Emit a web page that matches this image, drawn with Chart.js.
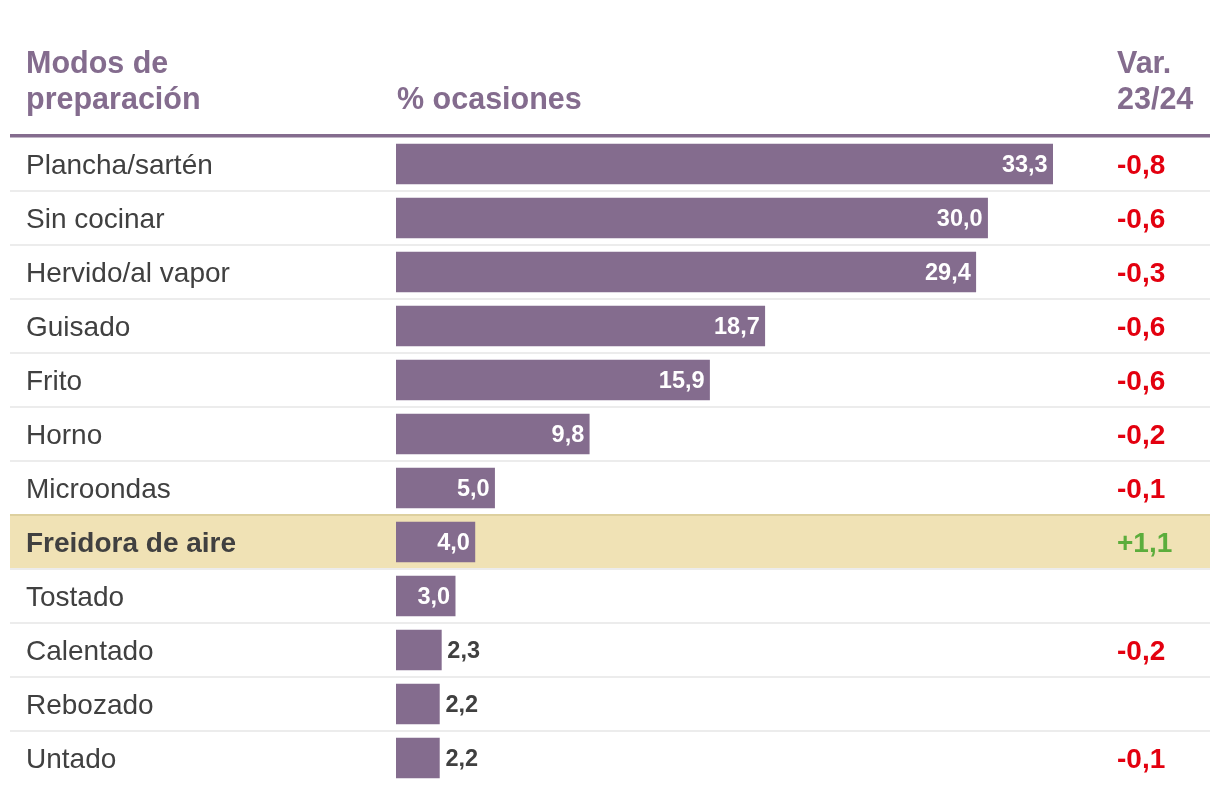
<!DOCTYPE html>
<html>
<head>
<meta charset="utf-8">
<script src="https://cdn.jsdelivr.net/npm/chart.js@4"></script>
<style>
  html, body { margin: 0; padding: 0; background: #fff; }
  #wrap { width: 1220px; height: 794px; position: relative; }
</style>
</head>
<body>
<div id="wrap"><canvas id="modosChart"></canvas></div>
<script>
const modos = ['Plancha/sartén', 'Sin cocinar', 'Hervido/al vapor', 'Guisado', 'Frito', 'Horno',
    'Microondas', 'Freidora de aire', 'Tostado', 'Calentado', 'Rebozado', 'Untado'];
const ocasiones = [33.3, 30.0, 29.4, 18.7, 15.9, 9.8, 5.0, 4.0, 3.0, 2.3, 2.2, 2.2];
const variacion = [-0.8, -0.6, -0.3, -0.6, -0.6, -0.2, -0.1, 1.1, null, -0.2, null, -0.1];
const destacado = 7; // Freidora de aire

const purple = '#846c8e';
const textGrey = '#404040';
const fmt = v => v.toFixed(1).replace('.', ',');

Chart.defaults.font.family = "'Liberation Sans', Arial, sans-serif";

const tablePlugin = {
    id: 'tablePlugin',
    beforeDraw(chart) {
        const c = chart.ctx;
        const y = chart.scales.y;
        const half = y.getPixelForValue(1) - y.getPixelForValue(0);
        c.save();
        // highlighted row
        const hTop = y.getPixelForValue(destacado) - half / 2;
        c.fillStyle = '#f0e2b5';
        c.fillRect(10, hTop, 1200, half);
        c.fillStyle = '#ddd09f';
        c.fillRect(10, hTop - 1, 1200, 2);
        // row separators
        c.fillStyle = '#ececec';
        for (let i = 0; i < modos.length - 1; i++) {
            if (i === destacado - 1) continue;
            const sy = y.getPixelForValue(i) + half / 2;
            c.fillRect(10, sy - 1, 1200, 2);
        }
        // header rule
        c.fillStyle = purple;
        c.fillRect(10, 134, 1200, 3.5);
        // headers
        c.font = "bold 30.5px 'Liberation Sans', Arial, sans-serif";
        c.fillStyle = purple;
        c.textBaseline = 'middle';
        c.textAlign = 'left';
        c.fillText('Modos de', 26, 65);
        c.fillText('preparación', 26, 101);
        c.fillText('% ocasiones', 397, 101);
        c.fillText('Var.', 1117, 65);
        c.fillText('23/24', 1117, 101);
        c.restore();
    },
    afterDraw(chart) {
        const c = chart.ctx;
        const y = chart.scales.y;
        const meta = chart.getDatasetMeta(0);
        c.save();
        c.textBaseline = 'middle';
        // value labels
        c.font = "bold 23.5px 'Liberation Sans', Arial, sans-serif";
        meta.data.forEach((bar, i) => {
            const v = ocasiones[i];
            if (v >= 2.5) {
                c.fillStyle = '#ffffff';
                c.textAlign = 'right';
                c.fillText(fmt(v), bar.x - 5, bar.y + 2);
            } else {
                c.fillStyle = textGrey;
                c.textAlign = 'left';
                c.fillText(fmt(v), bar.x + 6, bar.y + 2);
            }
        });
        // variation column
        c.font = "bold 28px 'Liberation Sans', Arial, sans-serif";
        c.textAlign = 'left';
        variacion.forEach((v, i) => {
            if (v === null) return;
            c.fillStyle = v > 0 ? '#5cad3c' : '#e3000f';
            c.fillText((v > 0 ? '+' : '') + fmt(v), 1117, y.getPixelForValue(i) + 2);
        });
        c.restore();
    }
};

const config = {
    type: 'bar',
    data: {
        labels: modos,
        datasets: [{
            label: '% ocasiones',
            data: ocasiones,
            backgroundColor: purple,
            barThickness: 40,
            borderWidth: 0
        }]
    },
    options: {
        indexAxis: 'y',
        responsive: true,
        maintainAspectRatio: false,
        animation: false,
        layout: {
            padding: { top: 137, bottom: 9, left: 26, right: 120 }
        },
        plugins: {
            legend: { display: false },
            tooltip: { enabled: false }
        },
        scales: {
            x: {
                display: false,
                min: 0,
                max: 35.7
            },
            y: {
                grid: { display: false },
                border: { display: false },
                afterFit: scale => {
                    scale.width = 370;
                    scale.paddingTop = 0;
                    scale.paddingBottom = 0;
                },
                ticks: {
                    crossAlign: 'far',
                    labelOffset: 2,
                    color: textGrey,
                    font: ctx => ({
                        size: 28,
                        weight: ctx.index === destacado ? 'bold' : 'normal'
                    })
                }
            }
        }
    },
    plugins: [tablePlugin]
};

const modosChart = new Chart(document.getElementById('modosChart'), config);
</script>
</body>
</html>
